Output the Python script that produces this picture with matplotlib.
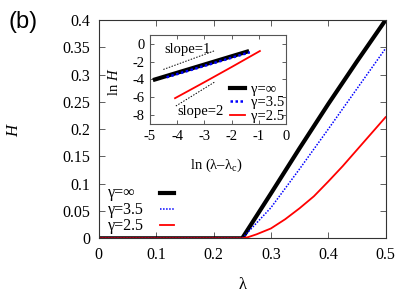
# панель (b): параметр порядка H(λ) и вставка в log-log
import matplotlib
matplotlib.use("Agg")
import matplotlib.pyplot as plt
from matplotlib.ticker import FormatStrFormatter

plt.rcParams['font.family'] = ['Liberation Serif', 'DejaVu Serif']
plt.rcParams['mathtext.fontset'] = 'custom'
plt.rcParams['mathtext.rm'] = 'Liberation Serif'
plt.rcParams['mathtext.it'] = 'Liberation Serif:italic'
plt.rcParams['axes.unicode_minus'] = False

# основной график
lam_inf = [0, 0.25, 0.3, 0.35, 0.4, 0.45, 0.5]
H_inf = [0, 0, 0.082, 0.165, 0.246, 0.324, 0.4]
lam_35 = [0, 0.25, 0.3, 0.35, 0.4, 0.45, 0.5]
H_35 = [0, 0, 0.056, 0.127, 0.2, 0.274, 0.348]
lam_25 = [0, 0.25, 0.26, 0.275, 0.3, 0.325, 0.35, 0.375, 0.4, 0.425, 0.45, 0.475, 0.5]
H_25 = [0, 0, 0.002, 0.0073, 0.018, 0.035, 0.055, 0.077, 0.104, 0.132, 0.162, 0.192, 0.222]

# вставка: ln H от ln(λ-λc)
ins_x_inf = [-4.82, -1.43]
ins_y_inf = [-4.0, -0.87]
ins_x_35 = [-4.39, -1.33]
ins_y_35 = [-3.75, -0.94]
ins_x_25 = [-4.08, -3.0, -2.0, -0.96]
ins_y_25 = [-6.1, -4.3, -2.6, -0.8]
slope1_x = [-4.51, -2.61]
slope1_y = [-2.87, -0.75]
slope2_x = [-4.05, -2.61]
slope2_y = [-6.98, -4.26]

labels = ["γ=∞", "γ=3.5", "γ=2.5"]

fig = plt.figure(figsize=(4.15, 2.91), dpi=100)
ax = fig.add_axes([98.8 / 415, 52.7 / 291, 286.8 / 415, 218.3 / 291])

l1, = ax.plot(lam_inf, H_inf, '-', color='black', lw=3.0)
l2, = ax.plot(lam_35, H_35, color='blue', lw=1.1, ls=(0, (1, 1)))
l3, = ax.plot(lam_25, H_25, '-', color='red', lw=1.3)

ax.set_xlim(0, 0.5)
ax.set_ylim(0, 0.4)
ax.set_xticks([0, 0.1, 0.2, 0.3, 0.4, 0.5])
ax.set_yticks([0, 0.05, 0.1, 0.15, 0.2, 0.25, 0.3, 0.35, 0.4])
ax.xaxis.set_major_formatter(FormatStrFormatter('%g'))
ax.yaxis.set_major_formatter(FormatStrFormatter('%g'))
ax.tick_params(direction='in', length=4, width=0.6, top=True, right=True,
               labelsize=11.5, pad=6, color='#444444')
for s in ax.spines.values():
    s.set_linewidth(0.8)
    s.set_color('#333333')
ax.set_xlabel('λ', fontsize=12)
ax.set_ylabel('$H$', fontsize=12)
ax.xaxis.set_label_coords(0.5, -0.175)
ax.yaxis.set_label_coords(-0.268, 0.5)

# ключ как в gnuplot: подписи слева (выровнены по левому краю), образцы справа
ax.legend([l1, l2, l3], ['', '', ''], loc='upper left',
          bbox_to_anchor=(0.213, 0.235), frameon=False, fontsize=11.5,
          handlelength=0.9, handletextpad=0.0, labelspacing=0.0,
          borderpad=0, borderaxespad=0)
for lab, yy in zip(labels, [0.207, 0.130, 0.055]):
    ax.text(0.032, yy, lab, transform=ax.transAxes, fontsize=11.5,
            ha='left', va='center')

fig.text(23 / 415, 1 - 22 / 291, '(b)', family='Liberation Sans', fontsize=17,
         ha='center', va='center')

# вставка
axi = fig.add_axes([150 / 415, 167 / 291, 136 / 415, 89 / 291])
axi.plot(slope1_x, slope1_y, color='black', lw=0.7, ls=(0, (1.5, 1.5)))
axi.plot(slope2_x, slope2_y, color='black', lw=0.7, ls=(0, (1.5, 1.5)))
axi.plot(ins_x_inf, ins_y_inf, '-', color='black', lw=3.0, label=labels[0])
axi.plot(ins_x_35, ins_y_35, color='blue', lw=1.8, ls=(0, (1, 1)), label=labels[1])
axi.plot(ins_x_25, ins_y_25, '-', color='red', lw=1.3, label=labels[2])
axi.text(-3.62, -0.68, 'slope=1', fontsize=10.5, ha='center', va='center')
axi.text(-3.13, -7.6, 'slope=2', fontsize=10.5, ha='center', va='center')

axi.set_xlim(-5, 0)
axi.set_ylim(-9, 1)
axi.set_xticks([-5, -4, -3, -2, -1, 0])
axi.set_yticks([0, -2, -4, -6, -8])
axi.tick_params(direction='in', length=3, width=0.6, top=True, right=True,
                labelsize=10.5, pad=4, color='#444444')
for s in axi.spines.values():
    s.set_linewidth(0.8)
    s.set_color('#555555')
axi.set_xlabel('ln (λ–λ$_{\\mathrm{c}}$)', fontsize=10.5)
axi.set_ylabel('ln $H$', fontsize=10.5)
axi.xaxis.set_label_coords(0.49, -0.37)
axi.yaxis.set_label_coords(-0.21, 0.47)
axi.legend(loc='upper left', bbox_to_anchor=(0.59, 0.46), frameon=False,
           fontsize=10.5, handlelength=1.0, handletextpad=0.45,
           labelspacing=0.0, borderpad=0, borderaxespad=0)

fig.savefig('out.png', dpi=100)
